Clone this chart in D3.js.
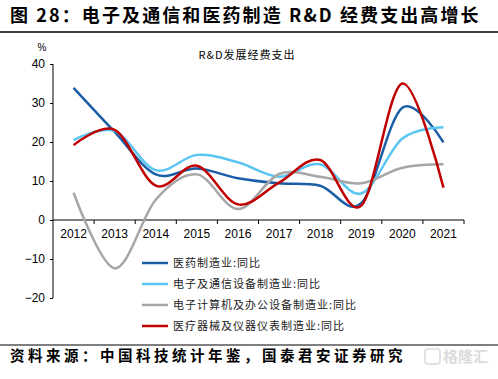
<!DOCTYPE html>
<html>
<head>
<meta charset="utf-8">
<script src="https://cdn.jsdelivr.net/npm/d3@7"></script>
<style>
  body { margin: 0; background: #fff; }
  svg text { font-family: "Liberation Sans", Arial, sans-serif; }
  .cjk { font-family: "Noto Sans CJK SC", sans-serif !important; }
</style>
</head>
<body>
<svg id="chart" width="498" height="379"></svg>
<script>
// years on the x axis
var years = ["2012","2013","2014","2015","2016","2017","2018","2019","2020","2021"];
// series values (%)
var pharma   = [33.9, 22.6, 11.7, 13.2, 10.7, 9.4, 8.8, 4.3, 28.8, 19.9];
var telecom  = [20.5, 22.8, 12.8, 16.7, 14.8, 11.1, 14.3, 6.8, 20.9, 23.8];
var computer = [7.0, -12.4, 5.2, 11.7, 2.8, 11.8, 11.1, 9.4, 13.4, 14.3];
var medical  = [19.2, 23.1, 8.8, 13.9, 4.0, 9.6, 15.4, 3.7, 35.0, 8.3];
var yTicks = [-20, -10, 0, 10, 20, 30, 40];
var seriesNames = ["医药制造业:同比", "电子及通信设备制造业:同比", "电子计算机及办公设备制造业:同比", "医疗器械及仪器仪表制造业:同比"];
var seriesColors = ["#1b5ea8", "#5cc6f2", "#a6a6a6", "#c00000"];

var svg = d3.select("#chart");

// heading
svg.append("text")
  .attr("class", "cjk")
  .attr("x", 10).attr("y", 22)
  .style("font-size", "18px").style("font-weight", "bold")
  .style("letter-spacing", "2.1px")
  .text("图 28：电子及通信和医药制造 R&D 经费支出高增长");
svg.append("line").attr("x1", 0).attr("x2", 498).attr("y1", 32).attr("y2", 32)
  .attr("stroke", "#000").attr("stroke-width", 1.5);

var x = d3.scaleBand().domain(years).range([53, 464]).paddingInner(0).paddingOuter(0);
var y = d3.scaleLinear().domain([-20, 40]).range([298, 64]);

var g = svg.append("g");

// y axis
var yAxis = g.append("g")
  .attr("transform", "translate(53,0)")
  .call(d3.axisLeft(y).tickValues(yTicks).tickSize(3).tickPadding(5));
yAxis.selectAll("text").style("font-size", "12px").attr("fill", "#000");
yAxis.selectAll("line, path").attr("stroke", "#000");
yAxis.select(".domain").attr("d", "M0," + y(-20) + "V" + y(40));

// x axis on the zero line
var xAxis = g.append("g")
  .attr("transform", "translate(0," + y(0) + ")")
  .call(d3.axisBottom(x).tickSize(0).tickPadding(9));
xAxis.selectAll("text").style("font-size", "12px").attr("fill", "#000");
xAxis.select(".domain").attr("stroke", "#000").attr("d", "M53,0H464");
var bounds = years.map(function(d){ return x(d); }).concat([x.range()[1]]);
xAxis.selectAll(".bound").data(bounds.slice(1)).enter().append("line")
  .attr("class", "bound")
  .attr("x1", function(d){ return d; }).attr("x2", function(d){ return d; })
  .attr("y1", 0).attr("y2", 4).attr("stroke", "#000");

// % label and inner title
svg.append("text").attr("x", 42).attr("y", 51).attr("text-anchor", "middle")
  .style("font-size", "10px").text("%");
svg.append("text").attr("class", "cjk").attr("x", 247).attr("y", 59).attr("text-anchor", "middle")
  .style("font-size", "11px").style("letter-spacing", "1px").text("R&D发展经费支出");

var line = d3.line()
  .x(function(d, i){ return x(years[i]) + x.bandwidth() / 2; })
  .y(function(d){ return y(d); })
  .curve(d3.curveCardinal.tension(0));

var allSeries = [pharma, telecom, computer, medical];
allSeries.forEach(function(s, i){
  g.append("path").datum(s)
    .attr("d", line)
    .attr("fill", "none")
    .attr("stroke", seriesColors[i])
    .attr("stroke-width", 2.5);
});

// legend
var legend = svg.append("g");
seriesNames.forEach(function(name, i){
  var ly = 263 + i * 21;
  legend.append("line").attr("x1", 142).attr("x2", 168).attr("y1", ly).attr("y2", ly)
    .attr("stroke", seriesColors[i]).attr("stroke-width", 2.5);
  legend.append("text").attr("class", "cjk").attr("x", 173).attr("y", ly + 4)
    .style("font-size", "11px").style("letter-spacing", "1px").attr("fill", "#222")
    .text(name);
});

// footer
svg.append("line").attr("x1", 0).attr("x2", 498).attr("y1", 345).attr("y2", 345)
  .attr("stroke", "#000").attr("stroke-width", 1.2);
svg.append("text").attr("class", "cjk").attr("x", 10).attr("y", 361)
  .style("font-size", "14.5px").style("font-weight", "bold").style("letter-spacing", "3.5px")
  .text("资料来源：中国科技统计年鉴，国泰君安证券研究");

// watermark
var wm = svg.append("g").attr("opacity", 0.35);
wm.append("rect").attr("x", 425).attr("y", 349).attr("width", 15).attr("height", 15).attr("rx", 3)
  .attr("fill", "none").attr("stroke", "#999").attr("stroke-width", 1.5);
wm.append("text").attr("class", "cjk").attr("x", 443).attr("y", 362)
  .style("font-size", "15px").style("font-weight", "bold").attr("fill", "#999").text("格隆汇");
</script>
</body>
</html>
